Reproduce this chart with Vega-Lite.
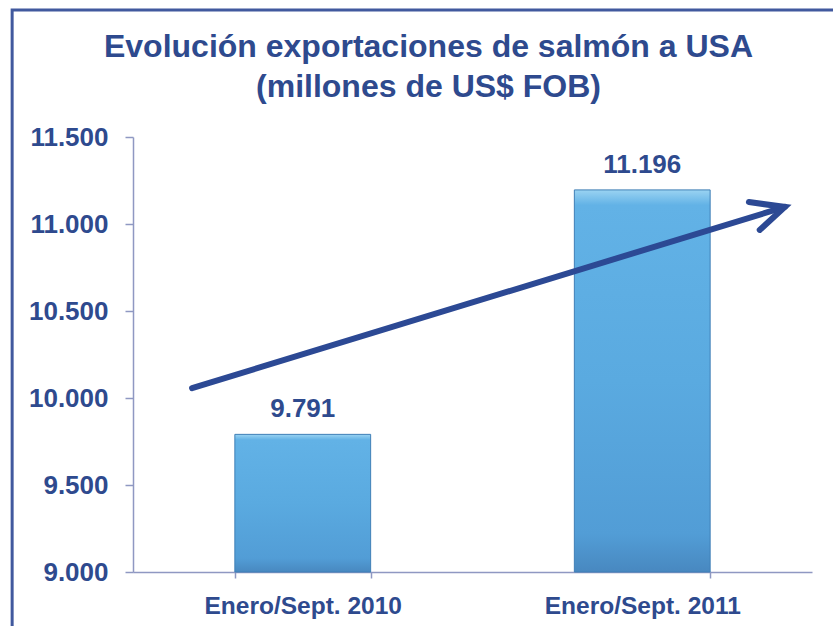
{
  "$schema": "https://vega.github.io/schema/vega-lite/v6.json",
  "width": 679,
  "height": 435,
  "autosize": {"type": "none"},
  "padding": {"left": 133, "top": 137, "right": 21, "bottom": 54},
  "background": "#ffffff",
  "config": {
    "view": {"stroke": null},
    "font": "Liberation Sans",
    "locale": {"number": {"decimal": ",", "thousands": ".", "grouping": [3], "currency": ["$", ""]}}
  },
  "title": {
    "text": ["Evolución exportaciones de salmón a USA", "(millones de US$ FOB)"],
    "fontSize": 32,
    "fontWeight": "bold",
    "font": "Liberation Sans",
    "color": "#2e4a8e",
    "anchor": "middle",
    "dx": -44,
    "offset": -96,
    "lineHeight": 40
  },
  "datasets": {
    "exportaciones": [
      {"periodo": "Enero/Sept. 2010", "valor": 9791},
      {"periodo": "Enero/Sept. 2011", "valor": 11196}
    ],
    "flecha": [
      {"x": 0.087, "valor": 10057, "x2": 0.960, "valor2": 11098}
    ],
    "punta": [
      {"orden": 1, "x": 0.907, "valor": 11126},
      {"orden": 2, "x": 0.960, "valor": 11098},
      {"orden": 3, "x": 0.923, "valor": 10966}
    ],
    "marco": [
      {"x": -0.178, "x2": 1.2, "valor": 12230, "valor2": 8000}
    ]
  },
  "encoding": {
    "y": {
      "field": "valor",
      "type": "quantitative",
      "scale": {"domain": [9000, 11500], "nice": false, "zero": false},
      "axis": {
        "title": null,
        "values": [9000, 9500, 10000, 10500, 11000, 11500],
        "format": ",.0f",
        "grid": false,
        "labelFontSize": 26,
        "labelFontWeight": "bold",
        "labelColor": "#2e4a8e",
        "labelPadding": 17,
        "tickSize": 8,
        "tickColor": "#8f98c2",
        "domainColor": "#8f98c2",
        "domainWidth": 1.5,
        "tickWidth": 1.5
      }
    }
  },
  "resolve": {"scale": {"x": "independent"}},
  "layer": [
    {
      "data": {"name": "exportaciones"},
      "encoding": {
        "x": {
          "field": "periodo",
          "type": "nominal",
          "sort": null,
          "scale": {"paddingInner": 0.6, "paddingOuter": 0.3},
          "axis": {
            "title": null,
            "labelAngle": 0,
            "labelFontSize": 24.5,
            "labelFontWeight": "bold",
            "labelColor": "#2e4a8e",
            "labelPadding": 16,
            "labelLimit": 0,
            "tickBand": "extent",
            "tickSize": 6,
            "tickColor": "#8f98c2",
            "domainColor": "#8f98c2",
            "domainWidth": 1.5,
            "tickWidth": 1.5
          }
        }
      },
      "layer": [
        {
          "mark": {
            "type": "bar",
            "stroke": "#3f7fb6",
            "strokeWidth": 1,
            "color": {
              "gradient": "linear",
              "x1": 0, "y1": 0, "x2": 0, "y2": 1,
              "stops": [
                {"offset": 0, "color": "#9ad3f2"},
                {"offset": 0.04, "color": "#62b2e6"},
                {"offset": 0.5, "color": "#5aaae0"},
                {"offset": 0.9, "color": "#529dd6"},
                {"offset": 1, "color": "#4888c0"}
              ]
            }
          },
          "encoding": {
            "y2": {"datum": 9000}
          }
        },
        {
          "mark": {
            "type": "text",
            "dy": -17,
            "baseline": "alphabetic",
            "fontSize": 26,
            "fontWeight": "bold",
            "color": "#2e4a8e"
          },
          "encoding": {
            "text": {"field": "valor", "type": "quantitative", "format": ",.0f"}
          }
        }
      ]
    },
    {
      "layer": [
        {
          "data": {"name": "marco"},
          "mark": {"type": "rect", "fill": null, "stroke": "#41599e", "strokeWidth": 3, "clip": false},
          "encoding": {
            "x": {"field": "x", "type": "quantitative", "scale": {"domain": [0, 1], "nice": false, "zero": false}, "axis": null},
            "x2": {"field": "x2"},
            "y2": {"field": "valor2"}
          }
        },
        {
          "data": {"name": "flecha"},
          "mark": {"type": "rule", "color": "#2c4994", "strokeWidth": 6, "strokeCap": "round"},
          "encoding": {
            "x": {"field": "x", "type": "quantitative", "scale": {"domain": [0, 1], "nice": false, "zero": false}, "axis": null},
            "x2": {"field": "x2"},
            "y2": {"field": "valor2"}
          }
        },
        {
          "data": {"name": "punta"},
          "mark": {"type": "line", "color": "#2c4994", "strokeWidth": 6, "strokeCap": "round", "strokeJoin": "miter"},
          "encoding": {
            "x": {"field": "x", "type": "quantitative", "scale": {"domain": [0, 1], "nice": false, "zero": false}, "axis": null},
            "order": {"field": "orden", "type": "quantitative"}
          }
        }
      ]
    }
  ]
}
